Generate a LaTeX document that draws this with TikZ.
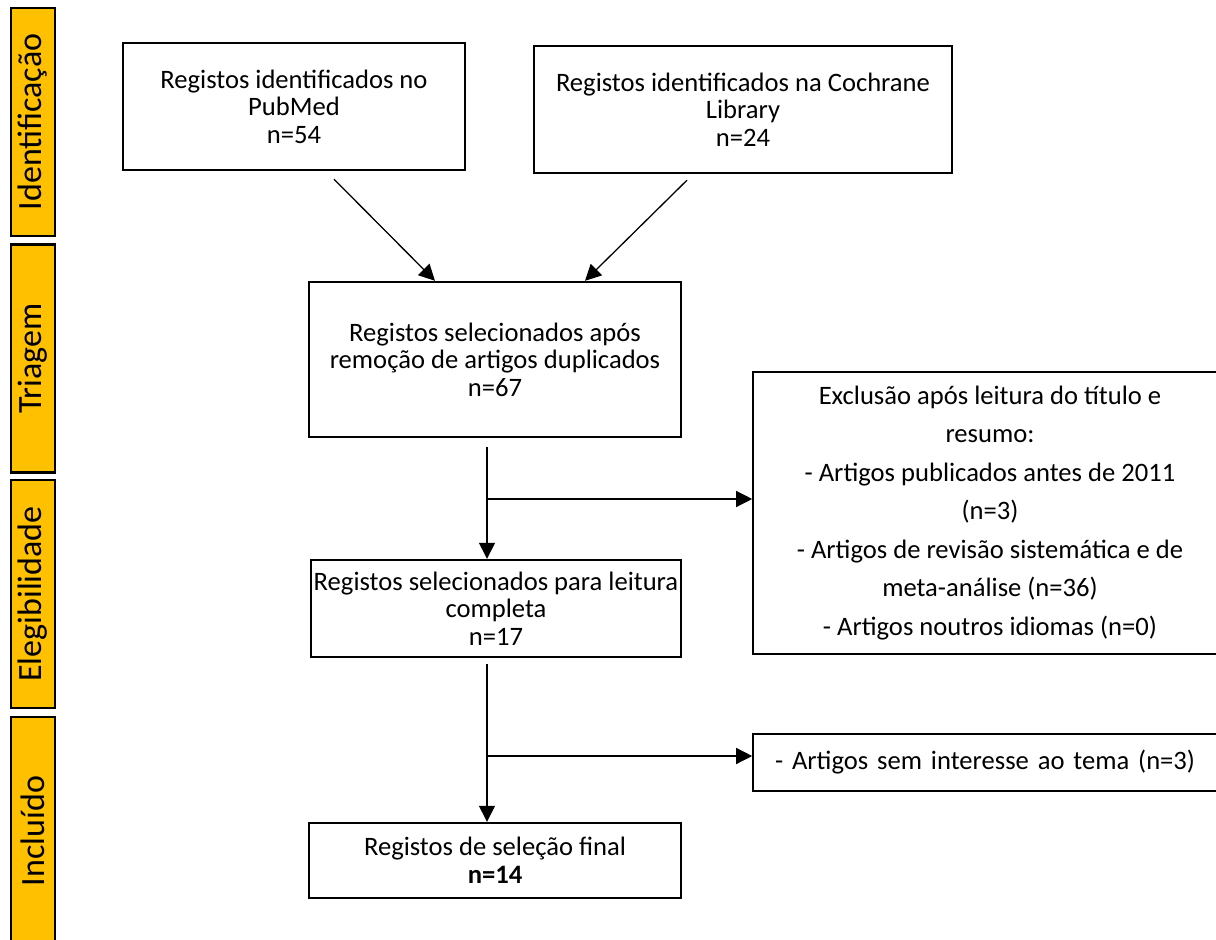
\documentclass[tikz,border=0pt]{standalone}
\usepackage{fontspec}
\setmainfont{Carlito}
\usetikzlibrary{arrows.meta}
\definecolor{labelgold}{HTML}{FFC000}
\begin{document}
\begin{tikzpicture}[x=1pt,y=-1pt,
  box/.style={draw, line width=2.4pt, align=center, inner sep=0pt, font=\fontsize{26.6}{27.5}\selectfont},
  side/.style={draw, line width=2.2pt, fill=labelgold, inner sep=0pt, rotate=90, minimum width=228pt, minimum height=44pt, font=\fontsize{34}{34}\selectfont},
  arr/.style={line width=1.3pt, -{Triangle[length=16pt,width=16pt]}},
  ln/.style={line width=1.3pt}]
\useasboundingbox (0,0) rectangle (1216,940);
% side labels
\node[side] (lid) at (33,122) {Identificação};
\node[side] (ltr) at (33,358.5) {Triagem};
\node[side] (lel) at (33,594) {Elegibilidade};
\node[side] (lin) at (33,831) {Incluído};
% boxes
\node[box, minimum width=342pt, minimum height=127pt] (b1) at (294,106.5) {Registos identificados no\\PubMed\\n=54};
\node[box, minimum width=418pt, minimum height=127pt] (b2) at (743,109.5) {Registos identificados na Cochrane\\Library\\n=24};
\node[box, minimum width=372pt, minimum height=155pt] (b3) at (495,359.5) {Registos selecionados após\\remoção de artigos duplicados\\n=67};
\node[box, minimum width=370pt, minimum height=97pt] (b4) at (496,608.5) {Registos selecionados para leitura\\completa\\n=17};
\node[box, line width=1.6pt, minimum width=474pt, minimum height=282pt, font=\fontsize{26.6}{38.5}\selectfont] (ex) at (990,513) {Exclusão após leitura do título e\\resumo:\\- Artigos publicados antes de 2011\\(n=3)\\- Artigos de revisão sistemática e de\\meta-análise (n=36)\\- Artigos noutros idiomas (n=0)};
\node[box, line width=1.6pt, minimum width=472pt, minimum height=57pt] (b5) at (989,762.5) {\makebox[420pt][s]{- Artigos sem interesse ao tema (n=3)}\hspace*{8pt}};
\node[box, minimum width=372pt, minimum height=75pt] (b6) at (495,860.5) {Registos de seleção final\\\textbf{n=14}};
% connectors
\coordinate (c1) at ([xshift=40pt,yshift=-8pt]b1.south);
\coordinate (c2) at ([xshift=-56pt,yshift=-6pt]b2.south);
\draw[arr] (c1) -- ([xshift=-60pt]b3.north);
\draw[arr] (c2) -- ([xshift=90pt]b3.north);
\coordinate (c3) at ([xshift=-8pt,yshift=-9pt]b3.south);
\draw[arr] (c3) -- (c3 |- b4.north);
\coordinate (j1) at (487,499);
\draw[arr] (j1) -- (j1 -| ex.west);
\coordinate (c4) at ([xshift=-9pt,yshift=-6pt]b4.south);
\draw[arr] (c4) -- (c4 |- b6.north);
\coordinate (j2) at (487,756);
\draw[arr] (j2) -- (j2 -| b5.west);
\end{tikzpicture}
\end{document}
